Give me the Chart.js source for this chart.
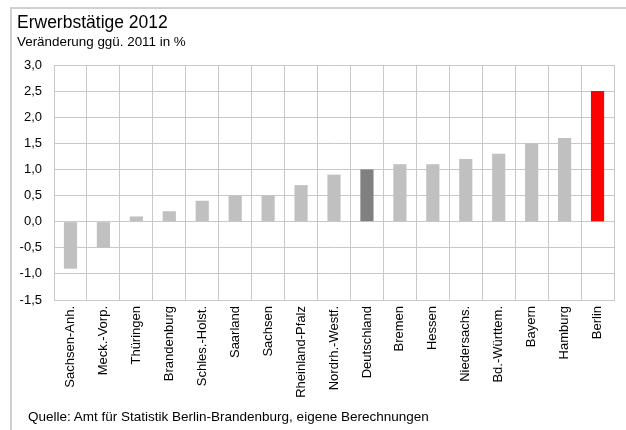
<!DOCTYPE html>
<html>
<head>
<meta charset="utf-8">
<script src="https://cdn.jsdelivr.net/npm/chart.js@4"></script>
<style>
    body { margin: 0; background: #fff; }
    #wrap { position: relative; width: 626px; height: 430px; overflow: hidden; font-family: "Liberation Sans", Arial, sans-serif; }
    #frame { position: absolute; left: 10px; top: 7px; width: 700px; height: 500px; border-top: 2px solid #d0d0d0; border-left: 2px solid #d0d0d0; }
    canvas { position: absolute; left: 0; top: 0; }
    .txt { position: absolute; left: 17px; line-height: 1; color: #000; white-space: nowrap; }
    #title { top: 14px; font-size: 17.5px; }
    #subtitle { top: 35px; font-size: 13.4px; }
    #source { top: 410px; left: 28px; font-size: 13.5px; }
</style>
</head>
<body>
<div id="wrap">
    <div id="frame"></div>
    <canvas id="chart" width="626" height="430"></canvas>
    <div class="txt" id="title">Erwerbstätige 2012</div>
    <div class="txt" id="subtitle">Veränderung ggü. 2011 in %</div>
    <div class="txt" id="source">Quelle: Amt für Statistik Berlin-Brandenburg, eigene Berechnungen</div>
</div>
<script>
// categories (Bundesländer) and change vs 2011 in %
const regions = [
    "Sachsen-Anh.", "Meck.-Vorp.", "Thüringen", "Brandenburg", "Schles.-Holst.",
    "Saarland", "Sachsen", "Rheinland-Pfalz", "Nordrh.-Westf.", "Deutschland",
    "Bremen", "Hessen", "Niedersachs.", "Bd.-Württem.", "Bayern", "Hamburg", "Berlin"
];
const changes = [-0.9, -0.5, 0.1, 0.2, 0.4, 0.5, 0.5, 0.7, 0.9, 1.0, 1.1, 1.1, 1.2, 1.3, 1.5, 1.6, 2.5];
const yMin = -1.5;
const yMax = 3.0;
const yStep = 0.5;

// Deutschland dark gray, Berlin red, rest light gray
const barColors = regions.map(r => r === "Berlin" ? "#ff0000" : r === "Deutschland" ? "#808080" : "#c0c0c0");

const font = { family: "'Liberation Sans', Arial, sans-serif", size: 13 };

new Chart(document.getElementById("chart").getContext("2d"), {
    type: "bar",
    data: {
        labels: regions,
        datasets: [{
            data: changes,
            backgroundColor: barColors,
            borderWidth: 0,
            barPercentage: 0.4,
            categoryPercentage: 1.0
        }]
    },
    options: {
        responsive: false,
        animation: false,
        layout: { padding: { left: 0, top: 65, right: 12, bottom: 0 } },
        plugins: {
            legend: { display: false },
            tooltip: { enabled: false }
        },
        scales: {
            x: {
                grid: { color: "#c8c8c8", lineWidth: 1, drawTicks: false, offset: true },
                border: { color: "#c8c8c8" },
                ticks: {
                    color: "#000",
                    font: font,
                    minRotation: 90,
                    maxRotation: 90,
                    autoSkip: false,
                    padding: 6
                },
                afterFit: (scale) => { scale.height = 130; }
            },
            y: {
                min: yMin,
                max: yMax,
                grid: { color: "#c8c8c8", lineWidth: 1, drawTicks: false },
                border: { color: "#c8c8c8" },
                ticks: {
                    stepSize: yStep,
                    color: "#000",
                    font: font,
                    padding: 12,
                    callback: (value) => value.toFixed(1).replace(".", ",")
                },
                afterFit: (scale) => { scale.width = 54; }
            }
        }
    }
});
</script>
</body>
</html>
